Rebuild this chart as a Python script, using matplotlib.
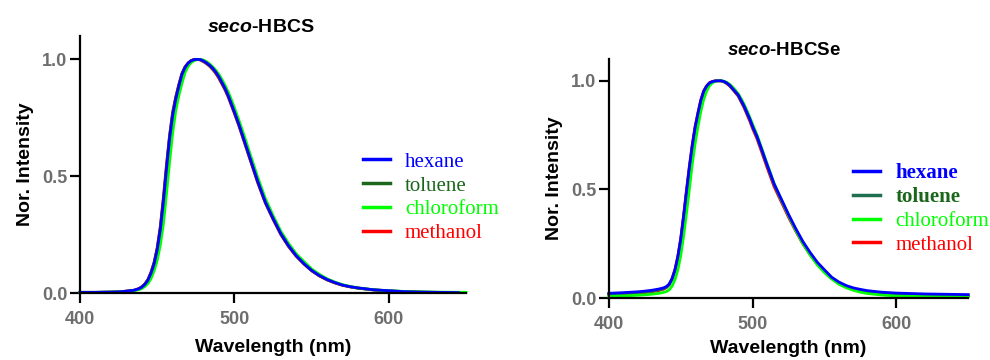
import matplotlib
matplotlib.use("Agg")
from matplotlib import pyplot as plt

plt.rcParams["font.family"] = ["Liberation Sans", "DejaVu Sans"]
plt.rcParams["mathtext.fontset"] = "custom"
plt.rcParams["mathtext.rm"] = "Liberation Sans"
plt.rcParams["mathtext.bf"] = "Liberation Sans:bold"
plt.rcParams["mathtext.bfit"] = "Liberation Sans:italic:bold"

# wavelength grid (nm)
wl = [400, 410, 420, 425, 430, 435, 438, 440, 442, 444, 446, 448, 450, 452, 454,
      456, 458, 460, 462, 464, 466, 468, 470, 472, 474, 476, 478, 480, 482, 484,
      486, 488, 490, 492, 494, 496, 498, 500, 503, 506, 510, 515, 520, 525, 530,
      535, 540, 545, 550, 555, 560, 565, 570, 575, 580, 590, 600, 610, 620, 630,
      650]
wl_short = wl[:-1] + [645]

# seco-HBCS
hbcs_hexane = [0.003, 0.003, 0.004, 0.005, 0.008, 0.012, 0.018, 0.025, 0.037, 0.055,
               0.085, 0.125, 0.185, 0.27, 0.39, 0.53, 0.66, 0.76, 0.83, 0.885,
               0.935, 0.965, 0.983, 0.994, 0.999, 1.0, 0.999, 0.993, 0.985, 0.975,
               0.962, 0.945, 0.925, 0.90, 0.875, 0.845, 0.81, 0.775, 0.72, 0.66,
               0.58, 0.48, 0.39, 0.32, 0.255, 0.203, 0.16, 0.126, 0.097, 0.075,
               0.058, 0.045, 0.034, 0.027, 0.022, 0.014, 0.01, 0.006, 0.004, 0.003,
               0.002]
hbcs_toluene = [0.003, 0.003, 0.004, 0.005, 0.008, 0.012, 0.018, 0.026, 0.038, 0.057,
                0.088, 0.13, 0.19, 0.28, 0.40, 0.54, 0.67, 0.77, 0.835, 0.89,
                0.938, 0.967, 0.984, 0.995, 0.999, 1.0, 0.998, 0.992, 0.983, 0.972,
                0.959, 0.942, 0.922, 0.897, 0.872, 0.842, 0.807, 0.772, 0.717, 0.657,
                0.577, 0.477, 0.388, 0.318, 0.253, 0.201, 0.159, 0.125, 0.096, 0.074,
                0.057, 0.044, 0.034, 0.027, 0.021, 0.014, 0.009, 0.006, 0.004, 0.003,
                0.002]
hbcs_chloroform = [0.003, 0.003, 0.004, 0.005, 0.007, 0.010, 0.014, 0.019, 0.028, 0.041,
                   0.062, 0.095, 0.14, 0.205, 0.295, 0.425, 0.56, 0.685, 0.78, 0.845,
                   0.897, 0.943, 0.97, 0.986, 0.995, 0.999, 1.0, 0.997, 0.99, 0.98,
                   0.968, 0.953, 0.935, 0.913, 0.888, 0.86, 0.828, 0.793, 0.738, 0.68,
                   0.598, 0.497, 0.405, 0.332, 0.265, 0.213, 0.168, 0.135, 0.103, 0.08,
                   0.061, 0.047, 0.036, 0.028, 0.022, 0.014, 0.01, 0.007, 0.005, 0.004,
                   0.003]
hbcs_methanol = [0.003, 0.003, 0.004, 0.005, 0.008, 0.012, 0.019, 0.027, 0.039, 0.058,
                 0.09, 0.132, 0.195, 0.285, 0.41, 0.55, 0.675, 0.775, 0.84, 0.893,
                 0.94, 0.968, 0.985, 0.995, 1.0, 1.0, 0.997, 0.99, 0.981, 0.97,
                 0.956, 0.939, 0.918, 0.893, 0.868, 0.838, 0.803, 0.768, 0.713, 0.653,
                 0.573, 0.473, 0.385, 0.315, 0.25, 0.199, 0.157, 0.124, 0.095, 0.073,
                 0.056, 0.043, 0.033, 0.026, 0.021, 0.013, 0.009, 0.006, 0.004, 0.003,
                 0.002]

# seco-HBCSe
hbcse_hexane = [0.022, 0.025, 0.029, 0.032, 0.036, 0.042, 0.047, 0.053, 0.065, 0.09,
                0.13, 0.19, 0.27, 0.375, 0.49, 0.60, 0.70, 0.785, 0.85, 0.91,
                0.952, 0.975, 0.99, 0.996, 0.999, 1.0, 1.0, 0.997, 0.99, 0.98,
                0.965, 0.95, 0.935, 0.91, 0.885, 0.855, 0.825, 0.79, 0.745, 0.69,
                0.615, 0.525, 0.455, 0.385, 0.32, 0.26, 0.21, 0.165, 0.13, 0.096,
                0.074, 0.058, 0.047, 0.04, 0.034, 0.027, 0.023, 0.021, 0.019, 0.018,
                0.016]
hbcse_toluene = [0.018, 0.021, 0.025, 0.028, 0.032, 0.038, 0.043, 0.049, 0.061, 0.086,
                 0.126, 0.186, 0.266, 0.37, 0.485, 0.595, 0.695, 0.78, 0.846, 0.906,
                 0.95, 0.974, 0.989, 0.996, 0.999, 1.0, 1.0, 0.996, 0.989, 0.978,
                 0.963, 0.948, 0.932, 0.907, 0.882, 0.852, 0.822, 0.787, 0.742, 0.687,
                 0.612, 0.522, 0.451, 0.381, 0.316, 0.256, 0.206, 0.161, 0.126, 0.092,
                 0.07, 0.054, 0.043, 0.035, 0.029, 0.022, 0.018, 0.015, 0.013, 0.012,
                 0.01]
hbcse_chloroform = [0.008, 0.01, 0.013, 0.015, 0.018, 0.022, 0.026, 0.03, 0.038, 0.055,
                    0.085, 0.13, 0.195, 0.285, 0.39, 0.50, 0.615, 0.71, 0.79, 0.86,
                    0.915, 0.952, 0.977, 0.99, 0.997, 1.0, 1.0, 0.998, 0.993, 0.984,
                    0.972, 0.957, 0.94, 0.918, 0.893, 0.864, 0.833, 0.8, 0.752, 0.696,
                    0.62, 0.527, 0.452, 0.38, 0.312, 0.25, 0.198, 0.153, 0.117, 0.088,
                    0.064, 0.048, 0.036, 0.027, 0.021, 0.014, 0.01, 0.008, 0.007, 0.006,
                    0.006]
hbcse_methanol = [0.015, 0.018, 0.022, 0.025, 0.029, 0.035, 0.041, 0.048, 0.062, 0.09,
                  0.132, 0.194, 0.276, 0.382, 0.497, 0.607, 0.706, 0.79, 0.855, 0.913,
                  0.954, 0.977, 0.991, 0.997, 1.0, 1.0, 0.999, 0.995, 0.987, 0.976,
                  0.961, 0.945, 0.929, 0.903, 0.877, 0.846, 0.815, 0.78, 0.734, 0.678,
                  0.602, 0.512, 0.442, 0.372, 0.308, 0.249, 0.2, 0.157, 0.123, 0.09,
                  0.069, 0.053, 0.042, 0.035, 0.029, 0.022, 0.018, 0.015, 0.013, 0.012,
                  0.01]

solvents = ["hexane", "toluene", "chloroform", "methanol"]
colors_left = ["#0000FF", "#1A661A", "#00FF00", "#FF0000"]
colors_right = ["#0000FF", "#1E6E50", "#00FF00", "#FF0000"]
text_colors_right = ["#0000FF", "#1A661A", "#00FF00", "#FF0000"]

xticks = [400, 500, 600]
yticks = [0.0, 0.5, 1.0]
tick_gray = "#6E6E6E"


def style_axes(ax, xpad):
    for side in ["top", "right"]:
        ax.spines[side].set_visible(False)
    for side in ["left", "bottom"]:
        ax.spines[side].set_linewidth(1.6)
    ax.set_xlim(400, 650)
    ax.set_ylim(0, 1.1)
    ax.set_xticks(xticks)
    ax.set_yticks(yticks)
    ax.set_xticklabels([str(t) for t in xticks])
    ax.set_yticklabels(["%.1f" % t for t in yticks])
    ax.tick_params(axis="x", length=7, width=1.6, pad=6, labelsize=13,
                   labelcolor=tick_gray)
    ax.tick_params(axis="y", length=7, width=1.6, pad=2, labelsize=13,
                   labelcolor=tick_gray)
    for lab in ax.get_xticklabels() + ax.get_yticklabels():
        lab.set_fontweight("bold")
    ax.set_xlabel("Wavelength (nm)", fontsize=14, fontweight="bold", labelpad=xpad)
    ax.set_ylabel("Nor. Intensity", fontsize=14, fontweight="bold", labelpad=6)


def add_legend(ax, handles, anchor, text_colors, bold_rows):
    leg = ax.legend(handles, solvents, loc="upper left", bbox_to_anchor=anchor,
                    frameon=False, borderpad=0, borderaxespad=0, handlelength=1.3,
                    handletextpad=0.72, labelspacing=0.2,
                    prop={"family": "Liberation Serif", "size": 15})
    for k, (txt, c) in enumerate(zip(leg.get_texts(), text_colors)):
        txt.set_color(c)
        if k in bold_rows:
            txt.set_fontweight("bold")
    for h in leg.legend_handles:
        h.set_linewidth(2.5)


fig = plt.figure(figsize=(9.9, 3.6), dpi=100)
ax1 = fig.add_axes([0.0808, 0.186, 0.39, 0.714])
ax2 = fig.add_axes([0.615, 0.172, 0.363, 0.664])

# left panel: seco-HBCS
left_data = [(wl_short, hbcs_hexane), (wl_short, hbcs_toluene),
             (wl, hbcs_chloroform), (wl_short, hbcs_methanol)]
handles = [None] * 4
for i in [3, 1, 2, 0]:
    x, y = left_data[i]
    handles[i], = ax1.plot(x, y, color=colors_left[i], lw=2.0, clip_on=False)
style_axes(ax1, 8)
ax1.set_title(r"$\mathbfit{seco}$-HBCS", fontsize=14, fontweight="bold", x=0.469, pad=3)
add_legend(ax1, handles, (0.733, 0.548), colors_left, [])

# right panel: seco-HBCSe
right_data = [hbcse_hexane, hbcse_toluene, hbcse_chloroform, hbcse_methanol]
handles = [None] * 4
for i in [3, 1, 2, 0]:
    handles[i], = ax2.plot(wl, right_data[i], color=colors_right[i], lw=2.0, clip_on=False)
style_axes(ax2, 5)
ax2.set_title(r"$\mathbfit{seco}$-HBCSe", fontsize=13.5, fontweight="bold", x=0.487, pad=2)
add_legend(ax2, handles, (0.68, 0.565), text_colors_right, [0, 1])

fig.savefig("out.png", dpi=100)
